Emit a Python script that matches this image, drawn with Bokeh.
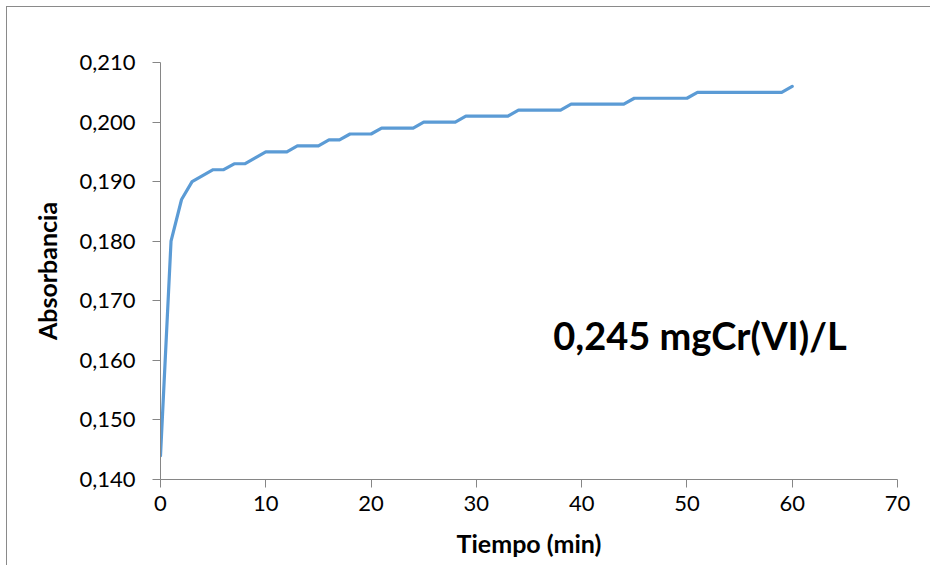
from bokeh.plotting import figure
from bokeh.models import FixedTicker, Label, Range1d
from bokeh.embed import file_html
from bokeh.resources import INLINE

# Data (time in minutes, absorbance)
tiempo = list(range(0, 61))
absorbancia = [
    0.144, 0.180, 0.187, 0.190, 0.191, 0.192, 0.192, 0.193, 0.193, 0.194,
    0.195, 0.195, 0.195, 0.196, 0.196, 0.196, 0.197, 0.197, 0.198, 0.198,
    0.198, 0.199, 0.199, 0.199, 0.199, 0.200, 0.200, 0.200, 0.200, 0.201,
    0.201, 0.201, 0.201, 0.201, 0.202, 0.202, 0.202, 0.202, 0.202, 0.203,
    0.203, 0.203, 0.203, 0.203, 0.203, 0.204, 0.204, 0.204, 0.204, 0.204,
    0.204, 0.205, 0.205, 0.205, 0.205, 0.205, 0.205, 0.205, 0.205, 0.205,
    0.206,
]
x_ticks = [0, 10, 20, 30, 40, 50, 60, 70]
y_ticks = [0.140, 0.150, 0.160, 0.170, 0.180, 0.190, 0.200, 0.210]
y_tick_labels = ["0,140", "0,150", "0,160", "0,170", "0,180", "0,190", "0,200", "0,210"]
annotation = "0,245 mgCr(VI)/L"

FONT = "Lato"
AXIS_GRAY = "#868686"

p = figure(
    frame_width=737, frame_height=417,
    min_border_left=153, min_border_top=55, min_border_right=33, min_border_bottom=86,
    output_backend="svg", toolbar_location=None,
    x_range=Range1d(0, 70), y_range=Range1d(0.140, 0.210),
    margin=(6, 0, 0, 6),
)
p.styles = {"border-top": "1px solid #8a8a8a", "border-left": "1px solid #8a8a8a"}
p.outline_line_color = None
p.xgrid.grid_line_color = None
p.ygrid.grid_line_color = None
p.background_fill_color = "white"
p.border_fill_color = "white"

p.line(tiempo, absorbancia, line_color="#5B9BD5", line_width=3.2,
       line_join="round", line_cap="round")

for ax in (p.xaxis[0], p.yaxis[0]):
    ax.axis_line_color = AXIS_GRAY
    ax.major_tick_line_color = AXIS_GRAY
    ax.minor_tick_line_color = None
    ax.major_tick_in = 0
    ax.major_tick_out = 8
    ax.major_label_text_font = FONT
    ax.major_label_text_font_size = "22px"
    ax.major_label_text_color = "black"
    ax.axis_label_text_font = FONT
    ax.axis_label_text_font_style = "bold"
    ax.axis_label_text_font_size = "25px"
    ax.axis_label_text_color = "black"

p.xaxis.ticker = FixedTicker(ticks=x_ticks)
p.yaxis.ticker = FixedTicker(ticks=y_ticks)
p.yaxis.major_label_overrides = {t: l for t, l in zip(y_ticks, y_tick_labels)}
p.xaxis.axis_label = "Tiempo (min)"
p.yaxis.axis_label = "Absorbancia"
p.xaxis.major_label_standoff = 8
p.yaxis.major_label_standoff = 17
p.xaxis.axis_label_standoff = 14
p.yaxis.axis_label_standoff = 14

p.add_layout(Label(x=37.3, y=0.1643, text=annotation, text_font=FONT,
                   text_font_style="bold", text_font_size="38px",
                   text_color="black", text_baseline="middle", text_align="left"))

open("out.html", "w").write(file_html(p, INLINE))
